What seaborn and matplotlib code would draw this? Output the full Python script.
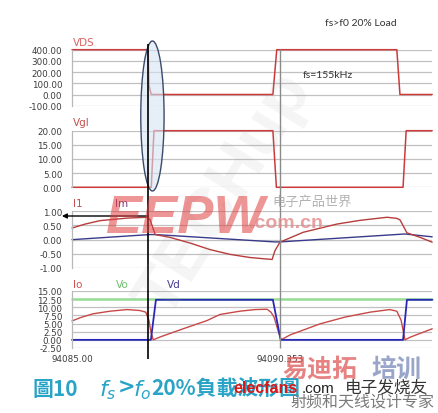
import matplotlib
matplotlib.use("Agg")
import matplotlib.pyplot as plt
import seaborn as sns
from matplotlib.patches import Ellipse

# ---------------- data (time in microseconds) ----------------
t_vds = [94085.00, 94086.96, 94086.98, 94087.04, 94090.17, 94090.27, 94093.36, 94093.44, 94094.27]
vds = [400, 400, 80, 0, 0, 400, 400, 0, 0]

t_vgl = [94085.00, 94087.04, 94087.11, 94090.17, 94090.26, 94093.52, 94093.60, 94094.27]
vgl = [0, 0, 20, 20, 0, 0, 20, 20]

t_i1 = [94085.00, 94085.34, 94085.72, 94086.42, 94086.93, 94087.01, 94087.14, 94087.52,
        94088.04, 94088.55, 94089.07, 94089.58, 94090.15, 94090.22, 94090.35, 94090.95,
        94091.82, 94092.41, 94093.11, 94093.36, 94093.44, 94093.62, 94093.96, 94094.27]
i1 = [0.41, 0.55, 0.67, 0.76, 0.79, 0.70, 0.18, 0.08, -0.12, -0.35, -0.52, -0.63,
      -0.70, -0.40, -0.09, 0.26, 0.55, 0.68, 0.79, 0.75, 0.70, 0.24, 0.08, -0.09]

t_im = [94085.00, 94087.01, 94087.14, 94090.22, 94090.35, 94093.57, 94094.27]
im = [0.00, 0.18, 0.18, -0.08, -0.08, 0.20, 0.10]

t_io = [94085.00, 94085.21, 94085.54, 94085.98, 94086.42, 94086.75, 94086.90, 94086.98,
        94087.03, 94087.09, 94087.27, 94087.86, 94088.47, 94088.81, 94089.32, 94089.71,
        94090.02, 94090.12, 94090.20, 94090.30, 94090.38, 94090.61, 94091.38, 94092.03,
        94092.67, 94093.18, 94093.36, 94093.47, 94093.52, 94093.57, 94093.70, 94094.27]
io = [5.8, 6.8, 8.0, 8.8, 9.3, 9.0, 8.5, 6.0, 2.5, 0.0, 0.9, 3.4, 5.9, 7.8, 8.8, 9.3,
      9.4, 8.5, 7.0, 3.0, 0.0, 1.5, 4.9, 7.0, 8.5, 9.3, 8.8, 6.0, 3.0, 0.0, 0.8, 3.4]

t_vo = [94085.00, 94094.27]
vo = [12.5, 12.5]

t_vd = [94085.00, 94087.03, 94087.16, 94090.17, 94090.37, 94093.52, 94093.62, 94094.27]
vd = [0, 0, 12.3, 12.3, 0, 0, 12.3, 12.3]

yt_vds = [-100, 0, 100, 200, 300, 400]
yt_vgl = [0, 5, 10, 15, 20]
yt_i = [-1.0, -0.5, 0.0, 0.5, 1.0]
yt_o = [-2.5, 0.0, 2.5, 5.0, 7.5, 10.0, 12.5, 15.0]
x_ticks = [94085.00, 94090.353]
x_ticklabels = ["94085.00", "94090.353"]
cursor1 = 94086.96
cursor2 = 94090.353
x_range = (94085.00, 94094.265)

# ---------------- figure ----------------
sns.set_theme(style="white")
plt.rcParams["font.family"] = ["DejaVu Sans", "Noto Sans CJK TC"]

W, H = 439, 414
fig = plt.figure(figsize=(W / 100, H / 100), dpi=100)


def fx(px):
    return px / W


def fy(py):
    return 1 - py / H


# faint diagonal background watermark
fig.text(fx(225), fy(195), "TECHup", fontsize=50, fontweight="bold", rotation=58,
         color="#a0a0a0", alpha=0.10, va="center", ha="center", family="Liberation Sans")

L, R = 72, 432
panels = [
    (50.7, 106.7, yt_vds, (-100, 400)),
    (131.7, 188.3, yt_vgl, (0, 20)),
    (212.3, 269.0, yt_i, (-1, 1)),
    (292.0, 349.0, yt_o, (-2.5, 15)),
]
axes = []
for top, bot, ticks, lim in panels:
    ax = fig.add_axes([fx(L), fy(bot), (R - L) / W, (bot - top) / H])
    ax.set_xlim(*x_range)
    ax.set_ylim(*lim)
    ax.set_yticks(ticks)
    ax.set_yticklabels([f"{v:.2f}" for v in ticks])
    ax.grid(axis="y", color="#c0c0c0", lw=0.9)
    ax.set_axisbelow(True)
    for s in ["top", "right", "bottom"]:
        ax.spines[s].set_visible(False)
    ax.spines["left"].set_color("#b8b8b8")
    ax.spines["left"].set_linewidth(0.9)
    ax.tick_params(axis="y", length=0, pad=7, labelsize=6.3, labelcolor="#3c3c3c")
    ax.tick_params(axis="x", length=0)
    ax.set_xticks([])
    ax.set_xlabel("")
    ax.set_ylabel("")
    ax.patch.set_alpha(0)
    axes.append(ax)

ax1, ax2, ax3, ax4 = axes
kw = dict(estimator=None, sort=False, legend=False)
sns.lineplot(x=t_vds, y=vds, ax=ax1, color="#cc3a3a", lw=1.1, **kw)
sns.lineplot(x=t_vgl, y=vgl, ax=ax2, color="#cc3a3a", lw=1.1, **kw)
sns.lineplot(x=t_im, y=im, ax=ax3, color="#3a3a8a", lw=1.0, **kw)
sns.lineplot(x=t_i1, y=i1, ax=ax3, color="#b83c3c", lw=1.0, **kw)
sns.lineplot(x=t_vo, y=vo, ax=ax4, color="#96dc96", lw=1.8, **kw)
sns.lineplot(x=t_io, y=io, ax=ax4, color="#c84848", lw=1.0, **kw)
sns.lineplot(x=t_vd, y=vd, ax=ax4, color="#2828b8", lw=1.3, **kw)
for ax in axes:
    for ln in ax.lines:
        ln.set_clip_on(False)
    ax.set_xlim(*x_range)

ax4.set_xticks(x_ticks)
ax4.set_xticklabels(x_ticklabels)
ax4.tick_params(axis="x", length=0, pad=4, labelsize=6.3, labelcolor="#3c3c3c")

# panel labels
lab = dict(fontsize=7.5, va="center", ha="left")
fig.text(fx(73), fy(43), "VDS", color="#d86464", **lab)
fig.text(fx(73), fy(123), "Vgl", color="#c85050", **lab)
fig.text(fx(73), fy(204), "I1", color="#c85050", **lab)
fig.text(fx(115), fy(204), "Im", color="#7a3a7a", **lab)
fig.text(fx(73), fy(285), "Io", color="#d05050", **lab)
fig.text(fx(116), fy(285), "Vo", color="#70c070", **lab)
fig.text(fx(167), fy(285), "Vd", color="#4a3a90", **lab)

# overlay for cursors / ellipse / arrow
ov = fig.add_axes([fx(L), 0, (R - L) / W, 1])
ov.set_xlim(*x_range)
ov.set_ylim(H, 0)
ov.axis("off")
ov.patch.set_alpha(0)
ov.add_patch(Ellipse((94087.07, 117), 0.60, 150, facecolor="#d6e3f2", alpha=0.6,
                     edgecolor="none", zorder=3))
ov.add_patch(Ellipse((94087.07, 117), 0.60, 150, facecolor="none",
                     edgecolor="#3a4a6a", lw=1.0, zorder=4))
ov.vlines(cursor2, 50, 349, color="#8a8a8a", lw=1.0, zorder=2)
ov.vlines(cursor1, 45, 360, color="black", lw=1.2, zorder=5)
ov.annotate("", xy=(94084.74, 217), xytext=(cursor1, 217), annotation_clip=False,
            arrowprops=dict(arrowstyle="-|>", color="black", lw=1.0,
                            mutation_scale=7, shrinkA=0, shrinkB=0), zorder=6)

# annotations
fig.text(fx(325), fy(24), "fs>f0 20% Load", fontsize=7.5, color="#333333",
         family="Lato", va="center", ha="left")
fig.text(fx(303), fy(75), "fs=155kHz", fontsize=7.5, color="#333333",
         family="Lato", va="center", ha="left")

# watermarks over the plot
fig.text(fx(105), fy(219), "EEPW", fontsize=39, fontweight="bold", style="italic",
         family="Liberation Sans", color="#e04040", alpha=0.55, va="center", ha="left")
fig.text(fx(272), fy(202), "电子产品世界", fontsize=9.5, color="#a0a0a0",
         family=["Noto Sans CJK SC"], va="center", ha="left", alpha=0.8)
fig.text(fx(250), fy(224), ".com.cn", fontsize=14, fontweight="bold",
         color="#e48888", alpha=0.8, va="center", ha="left", family="Liberation Sans")

# caption
cap = "#29a3c6"
fig.text(fx(33), fy(390), "圖10", fontsize=15, fontweight="bold", color=cap,
         family=["Noto Sans CJK TC", "DejaVu Sans"], va="center", ha="left")
fig.text(fx(99), fy(390), r"$f_s$", fontsize=16, color=cap, va="center", ha="left")
fig.text(fx(118), fy(388), ">", fontsize=15, fontweight="bold", color=cap,
         va="center", ha="left")
fig.text(fx(133), fy(390), r"$f_o$", fontsize=16, color=cap, va="center", ha="left")
fig.text(fx(151), fy(389), "20%負載波形圖", fontsize=15, fontweight="bold", color=cap,
         family=["Noto Sans CJK TC", "DejaVu Sans"], va="center", ha="left")

fig.text(fx(282), fy(370), "易迪拓", fontsize=18, fontweight="bold", color="#e05858",
         alpha=0.75, family=["Noto Sans CJK SC"], va="center", ha="left")
fig.text(fx(371), fy(370), "培训", fontsize=18, fontweight="bold", color="#7888b8",
         alpha=0.75, family=["Noto Sans CJK SC"], va="center", ha="left")
fig.text(fx(233), fy(389), "elecfans", fontsize=11.5, fontweight="bold", color="#d81818",
         family="Liberation Sans", va="center", ha="left")
fig.text(fx(302), fy(389), ".com", fontsize=11, color="#222222",
         family="Liberation Sans", va="center", ha="left")
fig.text(fx(345), fy(388), "电子发烧友", fontsize=12, color="#333333", style="italic",
         family=["Noto Sans CJK SC"], va="center", ha="left")
fig.text(fx(290), fy(403), "射频和天线设计专家", fontsize=11.5, color="#7a7a7a",
         family=["Noto Sans CJK SC"], va="center", ha="left")

fig.savefig("out.png", dpi=100)
